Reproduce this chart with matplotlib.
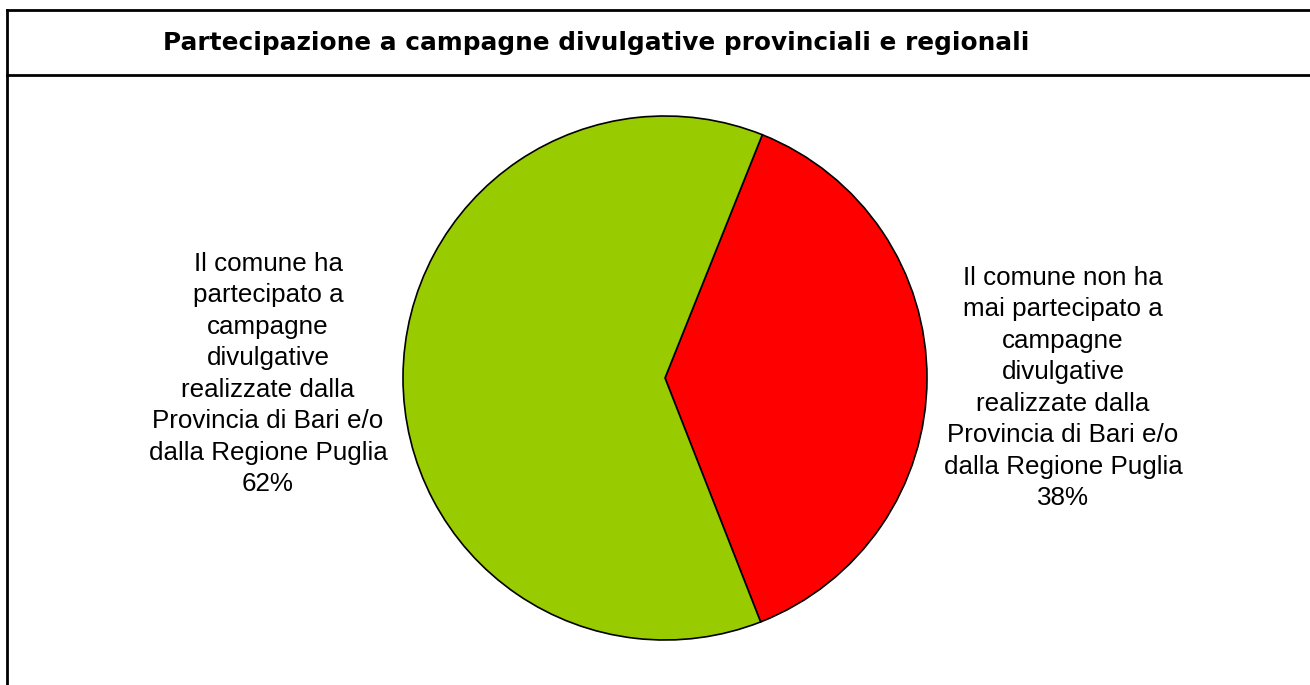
import matplotlib
matplotlib.use("Agg")
import matplotlib.pyplot as plt
from matplotlib.lines import Line2D

# ---- data ----
title = "Partecipazione a campagne divulgative provinciali e regionali"
categories = [
    "Il comune non ha\nmai partecipato a\ncampagne\ndivulgative\nrealizzate dalla\nProvincia di Bari e/o\ndalla Regione Puglia",
    "Il comune ha\npartecipato a\ncampagne\ndivulgative\nrealizzate dalla\nProvincia di Bari e/o\ndalla Regione Puglia",
]
values = [38, 62]

# ---- styles ----
colors = ["#FF0000", "#99CC00"]
W, H = 1310, 685
fig = plt.figure(figsize=(W / 100, H / 100), dpi=100)
fig.patch.set_facecolor("white")

def fx(px):
    return px / W

def fy(py):
    return 1 - py / H

# frame lines
lw = 2.0
fig.add_artist(Line2D([fx(7), 1.0], [fy(10), fy(10)], color="black", lw=lw))
fig.add_artist(Line2D([fx(7), fx(7)], [fy(10), 0.0], color="black", lw=lw))
fig.add_artist(Line2D([fx(7), 1.0], [fy(75), fy(75)], color="black", lw=lw))

fig.text(fx(596), fy(43), title, ha="center", va="center",
         fontsize=17.8, fontweight="bold", family="DejaVu Sans")

# pie
cx, cy, r = 665, 378, 262
ax = fig.add_axes([fx(cx - r), fy(cy + r), 2 * r / W, 2 * r / H])
ax.pie(values, colors=colors, startangle=68.2, counterclock=False,
       wedgeprops=dict(edgecolor="black", linewidth=1.2))
ax.set_xlim(-1, 1)
ax.set_ylim(-1, 1)
ax.set_aspect("equal")
ax.axis("off")

label_pos = [(1063, 388), (268, 374)]
for cat, val, (px, py) in zip(categories, values, label_pos):
    fig.text(fx(px), fy(py), f"{cat}\n{val}%", ha="center", va="center",
             fontsize=18.7, family="Liberation Sans", linespacing=1.39)

fig.savefig("out.png", dpi=100, facecolor="white")
